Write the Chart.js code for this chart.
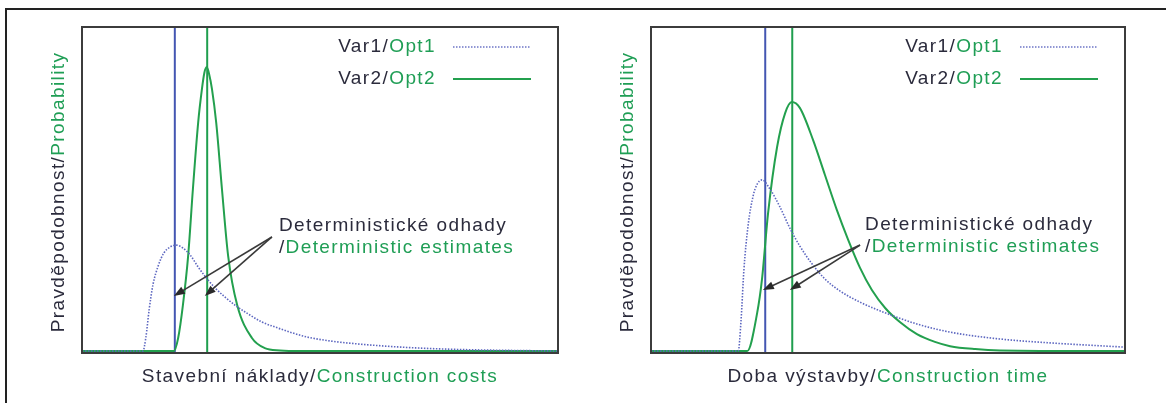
<!DOCTYPE html>
<html>
<head>
<meta charset="utf-8">
<script src="https://cdn.jsdelivr.net/npm/chart.js@4/dist/chart.umd.min.js"></script>
<style>
  body { margin: 0; background: #fff; width: 1166px; height: 403px; overflow: hidden; position: relative; }
  #frame { position: absolute; left: 5px; top: 8px; width: 1200px; height: 420px; border-top: 2px solid #222; border-left: 2px solid #222; }
  canvas { position: absolute; top: 0; }
  #costs { left: 0; }
  #time { left: 583px; }
</style>
</head>
<body>
<div id="frame"></div>
<canvas id="costs" width="583" height="403"></canvas>
<canvas id="time" width="583" height="403"></canvas>
<script>
// x and y on a 0..100 scale (relative position along axis, relative probability)
const costsVar1X = [0, 12.8, 13.4, 14.1, 14.9, 16.0, 17.2, 18.5, 19.7, 21.2, 22.7, 24.4, 26.3, 28.2, 30.0, 32.4, 34.9, 37.8, 40.5, 43.7, 47.3, 52.1, 57.8, 68.3, 78.8, 100];
const costsVar1Y = [0.6, 0.6, 4.6, 13.2, 20.9, 26.7, 30.7, 32.5, 33.1, 32.2, 30.1, 26.4, 22.7, 19.6, 17.2, 14.4, 12.0, 9.5, 8.0, 6.4, 4.9, 3.7, 2.8, 1.7, 1.1, 0.6];
const costsVar2X = [0, 19.3, 20.2, 21.2, 22.3, 23.3, 24.4, 25.2, 25.7, 26.2, 26.7, 27.3, 28.2, 29.4, 30.7, 32.6, 35.7, 38.4, 41.6, 45.8, 100];
const costsVar2Y = [0.6, 0.6, 4.6, 14.7, 29.8, 50.3, 70.6, 81.0, 85.9, 87.7, 85.6, 81.0, 70.6, 50.3, 29.8, 14.7, 4.6, 1.5, 0.8, 0.6, 0.6];
const costsEstimates = [19.5, 26.3];

const timeVar1X = [0, 18.4, 19.0, 19.6, 20.5, 21.6, 22.4, 23.4, 25.1, 27.2, 29.3, 31.4, 34.0, 36.7, 39.9, 44.1, 48.9, 56.1, 63.1, 73.6, 84.2, 100];
const timeVar1Y = [0.6, 0.6, 10.1, 25.5, 39.3, 48.5, 51.8, 53.1, 50.3, 44.8, 38.3, 32.8, 27.3, 22.7, 19.0, 15.6, 12.6, 8.9, 6.4, 4.3, 3.1, 1.8];
const timeVar2X = [0, 20.3, 22.4, 23.4, 24.7, 26.6, 28.3, 29.7, 31.4, 34.2, 36.7, 39.2, 41.6, 44.1, 46.6, 49.4, 52.5, 56.1, 59.9, 63.1, 68.4, 73.6, 100];
const timeVar2Y = [0.6, 0.6, 12.3, 22.4, 42.9, 63.2, 73.6, 77.0, 75.2, 65.3, 54.6, 43.9, 34.7, 26.1, 19.3, 13.8, 9.5, 5.8, 3.4, 2.1, 1.2, 0.8, 0.6];
const timeEstimates = [24.1, 29.8];

const legendLabels = [['Var1/', 'Opt1'], ['Var2/', 'Opt2']];
const noteLabels = [['Deterministické odhady', ''], ['/', 'Deterministic estimates']];
const yTitle = ['Pravděpodobnost/', 'Probability'];
const costsTitle = ['Stavební náklady/', 'Construction costs'];
const timeTitle = ['Doba výstavby/', 'Construction time'];
// arrow start and the two tips, in data units
const costsArrows = { from: [39.9, 35.6], to: [[19.3, 17.5], [25.8, 17.5]] };
const timeArrows = { from: [44.1, 33.1], to: [[23.6, 19.3], [29.3, 19.3]] };

const DARK = '#2b2b3c';
const GREEN = '#1f9e55';
const BLUE = '#4456b2';
const FONT = '19px "Liberation Sans", Arial, sans-serif';

function pts(xs, ys) {
  return xs.map((x, i) => ({ x: x, y: ys[i] }));
}

function twoTone(ctx, parts, x, y, align) {
  ctx.font = FONT;
  ctx.letterSpacing = '1.4px';
  ctx.textBaseline = 'middle';
  ctx.textAlign = 'left';
  const w0 = ctx.measureText(parts[0]).width;
  const w1 = parts[1] ? ctx.measureText(parts[1]).width : 0;
  let sx = x;
  if (align === 'right') sx = x - w0 - w1;
  if (align === 'center') sx = x - (w0 + w1) / 2;
  ctx.fillStyle = DARK;
  ctx.fillText(parts[0], sx, y);
  ctx.fillStyle = GREEN;
  if (parts[1]) ctx.fillText(parts[1], sx + w0, y);
  ctx.letterSpacing = '0px';
}

function arrow(ctx, x0, y0, x1, y1) {
  const a = Math.atan2(y1 - y0, x1 - x0);
  ctx.strokeStyle = '#3a3a3a';
  ctx.fillStyle = '#2a2a2a';
  ctx.lineWidth = 1.6;
  ctx.beginPath();
  ctx.moveTo(x0, y0);
  ctx.lineTo(x1 - 8 * Math.cos(a), y1 - 8 * Math.sin(a));
  ctx.stroke();
  ctx.beginPath();
  ctx.moveTo(x1, y1);
  ctx.lineTo(x1 - 11 * Math.cos(a) + 4 * Math.sin(a), y1 - 11 * Math.sin(a) - 4 * Math.cos(a));
  ctx.lineTo(x1 - 11 * Math.cos(a) - 4 * Math.sin(a), y1 - 11 * Math.sin(a) + 4 * Math.cos(a));
  ctx.closePath();
  ctx.fill();
}

const decorations = {
  id: 'decorations',
  afterDatasetsDraw(chart, args, opts) {
    const ctx = chart.ctx;
    const a = chart.chartArea;
    const sx = chart.scales.x, sy = chart.scales.y;
    ctx.save();
    // plot frame
    ctx.strokeStyle = '#3c3c3c';
    ctx.lineWidth = 2;
    ctx.strokeRect(a.left, a.top, a.right - a.left, a.bottom - a.top);

    // legend
    legendLabels.forEach((lab, i) => {
      const y = a.top + 20 + i * 32;
      twoTone(ctx, lab, a.right - 122, y, 'right');
      ctx.beginPath();
      ctx.lineWidth = i === 0 ? 1.5 : 2;
      ctx.strokeStyle = i === 0 ? '#6d76c6' : '#23a04e';
      ctx.setLineDash(i === 0 ? [1.5, 1.5] : []);
      ctx.moveTo(a.right - 105, y);
      ctx.lineTo(a.right - 27, y);
      ctx.stroke();
      ctx.setLineDash([]);
    });

    // arrows
    const ar = opts.arrows;
    const fx = sx.getPixelForValue(ar.from[0]), fy = sy.getPixelForValue(ar.from[1]);
    ar.to.forEach(t => arrow(ctx, fx, fy, sx.getPixelForValue(t[0]), sy.getPixelForValue(t[1])));

    // note
    twoTone(ctx, noteLabels[0], fx + opts.noteDx, fy + opts.noteDy, 'left');
    twoTone(ctx, noteLabels[1], fx + opts.noteDx, fy + opts.noteDy + 22, 'left');

    // axis titles
    twoTone(ctx, opts.xTitle, (a.left + a.right) / 2, a.bottom + 24, 'center');
    ctx.translate(a.left - 23, (a.top + a.bottom) / 2 + 2);
    ctx.rotate(-Math.PI / 2);
    twoTone(ctx, yTitle, 0, 0, 'center');
    ctx.restore();
  }
};

function makeChart(id, v1, v2, est, pad, opts) {
  new Chart(document.getElementById(id), {
    type: 'line',
    data: {
      datasets: [
        { data: v1, borderColor: '#5d67c0', borderWidth: 1.6, borderDash: [1.5, 1.5], pointRadius: 0, cubicInterpolationMode: 'monotone' },
        { data: v2, borderColor: '#23a04e', borderWidth: 2, pointRadius: 0, cubicInterpolationMode: 'monotone' },
        { data: [{ x: est[0], y: 0 }, { x: est[0], y: 100 }], borderColor: BLUE, borderWidth: 2, pointRadius: 0 },
        { data: [{ x: est[1], y: 0 }, { x: est[1], y: 100 }], borderColor: '#1f9e4e', borderWidth: 2, pointRadius: 0 }
      ]
    },
    options: {
      responsive: false,
      animation: false,
      layout: { padding: pad },
      plugins: { legend: { display: false }, tooltip: { enabled: false }, decorations: opts },
      scales: {
        x: { type: 'linear', min: 0, max: 100, display: false },
        y: { min: 0, max: 100, display: false }
      }
    },
    plugins: [decorations]
  });
}

makeChart('costs', pts(costsVar1X, costsVar1Y), pts(costsVar2X, costsVar2Y), costsEstimates,
  { left: 82, right: 25, top: 27, bottom: 50 },
  { arrows: costsArrows, xTitle: costsTitle, noteDx: 7, noteDy: -11 });
makeChart('time', pts(timeVar1X, timeVar1Y), pts(timeVar2X, timeVar2Y), timeEstimates,
  { left: 68, right: 41, top: 27, bottom: 50 },
  { arrows: timeArrows, xTitle: timeTitle, noteDx: 5, noteDy: -20 });
</script>
</body>
</html>
